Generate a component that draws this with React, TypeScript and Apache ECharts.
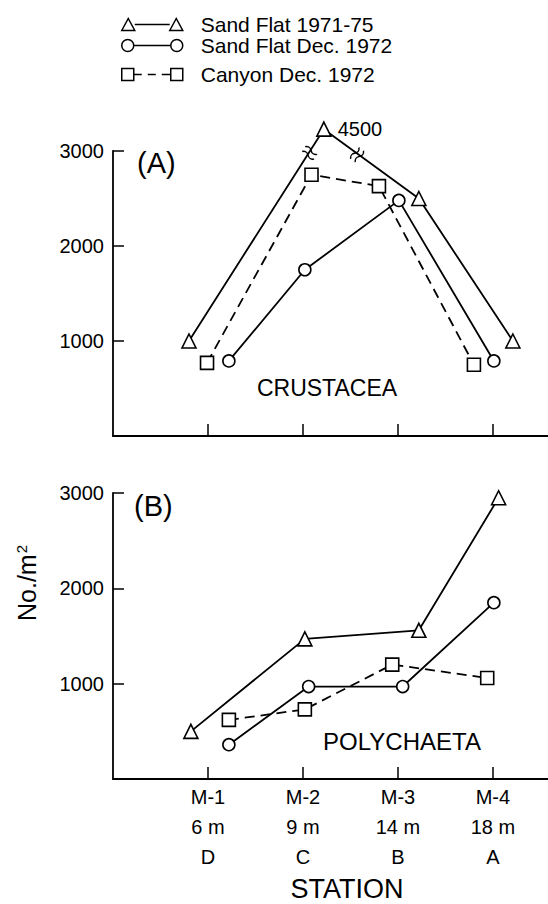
import React, { useEffect, useRef } from 'react';
import * as echarts from 'echarts';

const FONT = '"Liberation Sans", Arial, sans-serif';

const stationLabels = ['M-1\n6 m\nD', 'M-2\n9 m\nC', 'M-3\n14 m\nB', 'M-4\n18 m\nA'];
const stationTicks = [1, 2, 3, 4];
const seriesNames = ['Sand Flat 1971-75', 'Sand Flat Dec. 1972', 'Canyon Dec. 1972'];
const yTickValues = [1000, 2000, 3000];

// Panel A – CRUSTACEA (x = plotted station position, offset by hand in the original)
const crustSandFlatX = [0.8, 2.22, 3.22, 4.21];
const crustSandFlat = [1000, 4500, 2500, 1000];
const crustDecX = [1.22, 2.02, 3.01, 4.01];
const crustDec = [790, 1750, 2480, 790];
const crustCanyonX = [0.99, 2.09, 2.8, 3.8];
const crustCanyon = [770, 2750, 2630, 750];
const crustBreakDrawnAt = 3230; // broken-axis position of the 4500 value
const crustBreakMarks = [
  [2.07, 2980, -33],
  [2.57, 2960, 54],
];

// Panel B – POLYCHAETA
const polySandFlatX = [0.82, 2.02, 3.22, 4.06];
const polySandFlat = [500, 1470, 1560, 2950];
const polyDecX = [1.22, 2.06, 3.05, 4.01];
const polyDec = [360, 970, 970, 1850];
const polyCanyonX = [1.22, 2.02, 2.94, 3.94];
const polyCanyon = [620, 730, 1200, 1060];

const legendIcons = [
  'path://M0 13 L6.5 1 L13 13 Z M13 7 L48 7 M48 13 L54.5 1 L61 13 Z',
  'path://M0 7 A6 6 0 1 1 12 7 A6 6 0 1 1 0 7 Z M12 7 L49 7 M49 7 A6 6 0 1 1 61 7 A6 6 0 1 1 49 7 Z',
  'path://M0 1 L12 1 L12 13 L0 13 Z M12 7 L20 7 M26 7 L34 7 M40 7 L49 7 M49 1 L61 1 L61 13 L49 13 Z',
];
const legendTops = [9, 30, 59];

const symbols = ['triangle', 'circle', 'rect'];
const symbolSizes = [14, 12, 13];

function makeSeries(
  idx: number,
  xs: number[],
  ys: number[],
  axis: number,
  extra: any = {}
) {
  return {
    type: 'line',
    name: seriesNames[idx],
    xAxisIndex: axis,
    yAxisIndex: axis,
    data: xs.map((x, i) => [x, ys[i]]),
    symbol: symbols[idx],
    symbolSize: symbolSizes[idx],
    showAllSymbol: true,
    clip: false,
    silent: true,
    lineStyle: { color: '#000', width: 1.8, type: idx === 2 ? [10, 6] : 'solid' },
    itemStyle: { color: '#fff', borderColor: '#000', borderWidth: 1.6 },
    z: 3,
    ...extra,
  };
}

export default function App() {
  const ref = useRef<HTMLDivElement>(null);

  useEffect(() => {
    if (!ref.current) return;
    const chart = echarts.init(ref.current, null, { renderer: 'svg' });

    const crustSFData = crustSandFlat.map((v, i) => {
      if (v > 3000) {
        return {
          value: [crustSandFlatX[i], crustBreakDrawnAt],
          label: {
            show: true,
            position: 'right',
            distance: 6,
            formatter: String(v),
            fontSize: 20,
            color: '#000',
            fontFamily: FONT,
          },
        };
      }
      return [crustSandFlatX[i], v];
    });

    const xAxisBase = (showLabels: boolean, grid: number) => ({
      type: 'value',
      gridIndex: grid,
      min: 0,
      max: 4.58,
      axisLine: { show: true, lineStyle: { color: '#000', width: 1.8 } },
      axisTick: {
        show: true,
        inside: true,
        length: 12,
        customValues: stationTicks,
        lineStyle: { color: '#000', width: 1.5 },
      },
      splitLine: { show: false },
      axisLabel: showLabels
        ? {
            show: true,
            customValues: stationTicks,
            formatter: (v: number) => stationLabels[Math.round(v) - 1] || '',
            fontSize: 20,
            lineHeight: 30,
            color: '#000',
            margin: 3,
            fontFamily: FONT,
          }
        : { show: false },
    });

    const yAxisBase = (grid: number) => ({
      type: 'value',
      gridIndex: grid,
      min: 0,
      max: 3000,
      interval: 1000,
      axisLine: { show: true, lineStyle: { color: '#000', width: 1.8 } },
      axisTick: {
        show: true,
        inside: true,
        length: 11,
        customValues: yTickValues,
        lineStyle: { color: '#000', width: 1.5 },
      },
      splitLine: { show: false },
      axisLabel: {
        show: true,
        customValues: yTickValues,
        formatter: (v: number) => (v === 0 ? '' : String(v)),
        fontSize: 20,
        color: '#000',
        margin: 9,
        fontFamily: FONT,
      },
    });

    chart.setOption({
      animation: false,
      backgroundColor: '#fff',
      textStyle: { fontFamily: FONT, color: '#000' },
      legend: seriesNames.map((n, i) => ({
        data: [{ name: n, icon: legendIcons[i] }],
        left: 116,
        top: legendTops[i],
        itemWidth: 61,
        itemHeight: 13,
        selectedMode: false,
        itemStyle: { color: '#fff', borderColor: '#000', borderWidth: 1.5 },
        textStyle: {
          fontSize: 21,
          color: '#000',
          fontFamily: FONT,
          padding: [0, 0, 0, 13],
        },
      })),
      grid: [
        { left: 113, top: 151, right: 0, height: 285 },
        { left: 113, top: 493, right: 0, height: 286 },
      ],
      xAxis: [xAxisBase(false, 0), xAxisBase(true, 1)],
      yAxis: [yAxisBase(0), yAxisBase(1)],
      series: [
        makeSeries(0, crustSandFlatX, crustSandFlat, 0, {
          data: crustSFData,
          markPoint: {
            symbol: 'path://M0 2 Q2.5 -1 5 2 T10 2 M0 7 Q2.5 4 5 7 T10 7',
            symbolSize: [14, 9],
            silent: true,
            itemStyle: { color: 'transparent', borderColor: '#000', borderWidth: 1.5 },
            label: { show: false },
            data: crustBreakMarks.map((b) => ({ coord: [b[0], b[1]], symbolRotate: b[2] })),
          },
        }),
        makeSeries(1, crustDecX, crustDec, 0),
        makeSeries(2, crustCanyonX, crustCanyon, 0),
        makeSeries(0, polySandFlatX, polySandFlat, 1),
        makeSeries(1, polyDecX, polyDec, 1),
        makeSeries(2, polyCanyonX, polyCanyon, 1),
      ],
      graphic: [
        {
          type: 'text',
          x: 137,
          y: 163,
          style: { text: '(A)', fontSize: 29, fill: '#000', fontFamily: FONT, align: 'left', verticalAlign: 'middle' },
        },
        {
          type: 'text',
          x: 134,
          y: 506,
          style: { text: '(B)', fontSize: 29, fill: '#000', fontFamily: FONT, align: 'left', verticalAlign: 'middle' },
        },
        {
          type: 'text',
          x: 327,
          y: 388,
          style: { text: 'CRUSTACEA', fontSize: 23, fill: '#000', fontFamily: FONT, align: 'center', verticalAlign: 'middle' },
        },
        {
          type: 'text',
          x: 402,
          y: 741,
          style: { text: 'POLYCHAETA', fontSize: 24, fill: '#000', fontFamily: FONT, align: 'center', verticalAlign: 'middle' },
        },
        {
          type: 'text',
          x: 347,
          y: 889,
          style: { text: 'STATION', fontSize: 27, fill: '#000', fontFamily: FONT, align: 'center', verticalAlign: 'middle' },
        },
        {
          type: 'text',
          x: 27,
          y: 583,
          rotation: Math.PI / 2,
          style: {
            text: 'No./m{s|2}',
            fontSize: 25,
            fill: '#000',
            fontFamily: FONT,
            align: 'center',
            verticalAlign: 'middle',
            rich: { s: { fontSize: 15, fill: '#000', fontFamily: FONT, verticalAlign: 'top', padding: [0, 0, 12, 1] } },
          },
        },
      ],
    });

    return () => chart.dispose();
  }, []);

  return (
    <div
      ref={ref}
      style={{ position: 'fixed', left: 0, top: 0, width: 548, height: 904, background: '#fff' }}
    />
  );
}
